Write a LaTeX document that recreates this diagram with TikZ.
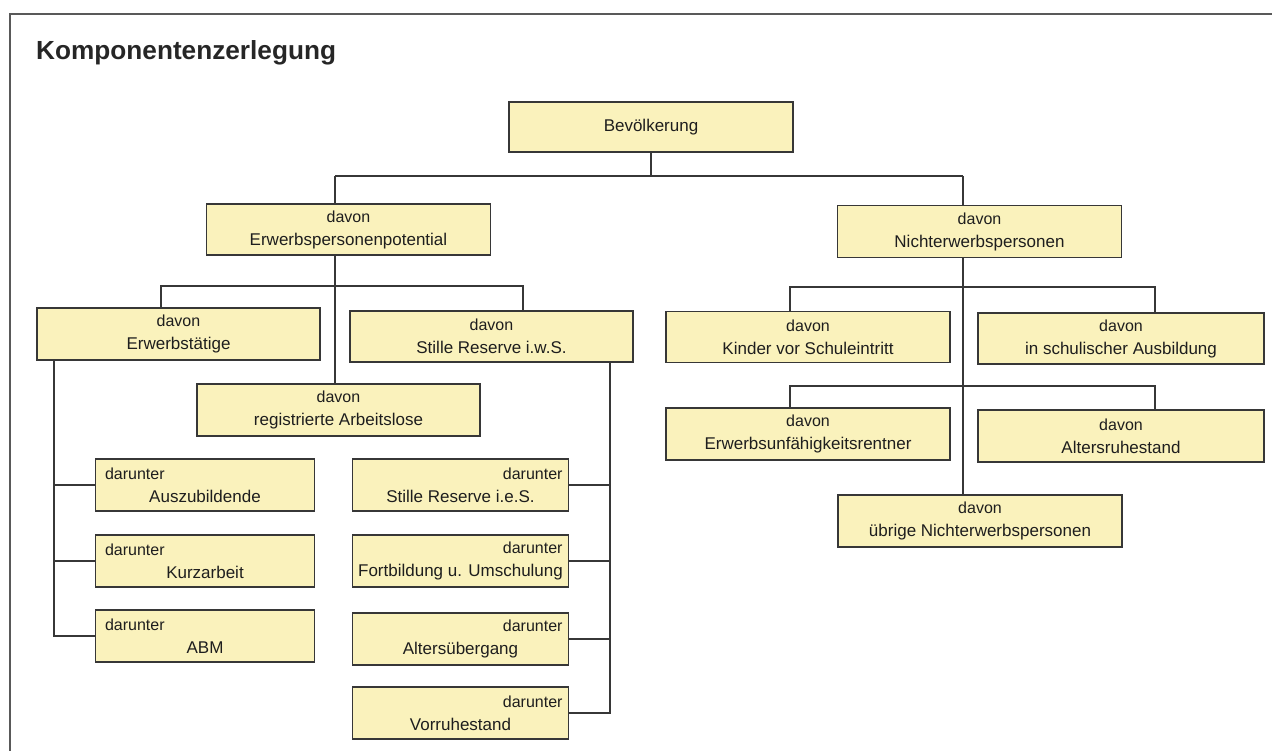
\documentclass[tikz,border=0pt]{standalone}
\usepackage{fontspec}
\setmainfont{Liberation Sans}
\definecolor{boxfill}{RGB}{250,242,188}
\definecolor{lineclr}{RGB}{55,55,55}
\definecolor{txtclr}{RGB}{30,30,30}
\newcommand\fs{\fontsize{16}{23}\selectfont}
\newcommand\dl[1]{\makebox[200pt][l]{\fs darunter}\\#1}
\newcommand\dr[1]{\makebox[204pt][r]{\fs darunter}\\#1}
\newcommand\dv[1]{{\fs davon}\\#1}
\begin{document}
\begin{tikzpicture}[x=1pt,y=-1pt,
  box/.style={draw=lineclr, fill=boxfill, line width=1.5pt, minimum width=284pt, minimum height=51pt,
    inner sep=0pt, align=center, text=txtclr, font=\fontsize{17}{23}\selectfont},
  subbox/.style={box, minimum width=218pt},
  conn/.style={draw=lineclr, line width=1.6pt},
  frame/.style={draw=black!65, line width=2pt}]
\useasboundingbox (0,0) rectangle (1272,751);
% frame
\coordinate (fr1) at (1272,14);
\coordinate (fr2) at (10,14);
\coordinate (fr3) at (10,751);
\draw[frame] (fr1) -- (fr2) -- (fr3);
% title
\node[anchor=base west, inner sep=0pt, text=black!85, font=\bfseries\fontsize{26.2}{30}\selectfont] (title) at (36,60) {Komponentenzerlegung};
% top level
\node[box, minimum height=50pt] (bev) at (651,127) {Bevölkerung};
\node[box] (epp) at (348.5,229.5) {\dv{Erwerbspersonenpotential}};
\node[box, minimum height=52pt] (nep) at (979.5,231.5) {\dv{Nichterwerbspersonen}};
% left subtree
\node[box, minimum width=283pt, minimum height=52pt] (et) at (178.5,334) {\dv{Erwerbstätige}};
\node[box, minimum width=283pt] (sr) at (491.5,336.5) {\dv{Stille Reserve i.w.S.}};
\node[box, minimum width=283pt, minimum height=52pt] (ra) at (338.5,410) {\dv{registrierte Arbeitslose}};
% darunter left
\node[subbox, minimum width=219pt, minimum height=52pt] (az) at (205,485) {\dl{Auszubildende}};
\node[subbox, minimum width=219pt, minimum height=52pt] (ka) at (205,561) {\dl{Kurzarbeit}};
\node[subbox, minimum width=219pt, minimum height=52pt] (abm) at (205,636) {\dl{ABM}};
% darunter right
\node[subbox, minimum width=216pt, minimum height=52pt] (sie) at (460.5,485) {\dr{Stille Reserve i.e.S.}};
\node[subbox, minimum width=216pt, minimum height=52pt] (fu) at (460.5,561) {\dr{Fortbildung u. Umschulung}};
\node[subbox, minimum width=216pt, minimum height=52pt] (au) at (460.5,639) {\dr{Altersübergang}};
\node[subbox, minimum width=216pt, minimum height=52pt] (vr) at (460.5,713) {\dr{Vorruhestand}};
% right subtree
\node[box] (ki) at (808,337) {\dv{Kinder vor Schuleintritt}};
\node[box, minimum width=286pt] (sa) at (1121,338.5) {\dv{in schulischer Ausbildung}};
\node[box, minimum height=52pt] (eu) at (808,434) {\dv{Erwerbsunfähigkeitsrentner}};
\node[box, minimum width=286pt, minimum height=52pt] (ar) at (1121,436) {\dv{Altersruhestand}};
\node[box, minimum height=52pt] (ub) at (980,521) {\dv{übrige Nichterwerbspersonen}};
% connectors top
\coordinate (hA) at (335,176);
\coordinate (hB) at (963,176);
\draw[conn] (bev.south) -- (bev.south |- hA);
\draw[conn] (hA) -- (hB);
\draw[conn] (hA) -- (hA |- epp.north);
\draw[conn] (hB) -- (hB |- nep.north);
% left subtree connectors
\coordinate (hL1) at (161,286);
\coordinate (hL2) at (523,286);
\draw[conn] (epp.south -| hA) -- (hA |- ra.north);
\draw[conn] (hL1 |- et.north) -- (hL1) -- (hL2) -- (hL2 |- sr.north);
% left trunk
\coordinate (tl) at (54,400);
\draw[conn] (et.south -| tl) -- (tl |- abm.west) -- (abm.west);
\draw[conn] (tl |- az.west) -- (az.west);
\draw[conn] (tl |- ka.west) -- (ka.west);
% right trunk
\coordinate (tr) at (610,400);
\draw[conn] (sr.south -| tr) -- (tr |- vr.east) -- (vr.east);
\draw[conn] (tr |- sie.east) -- (sie.east);
\draw[conn] (tr |- fu.east) -- (fu.east);
\draw[conn] (tr |- au.east) -- (au.east);
% right subtree connectors
\draw[conn] (nep.south -| hB) -- (hB |- ub.north);
\coordinate (hR1) at (790,287);
\coordinate (hR2) at (1155,287);
\draw[conn] (hR1 |- ki.north) -- (hR1) -- (hR2) -- (hR2 |- sa.north);
\coordinate (hR3) at (790,386);
\coordinate (hR4) at (1155,386);
\draw[conn] (hR3 |- eu.north) -- (hR3) -- (hR4) -- (hR4 |- ar.north);
\end{tikzpicture}
\end{document}
